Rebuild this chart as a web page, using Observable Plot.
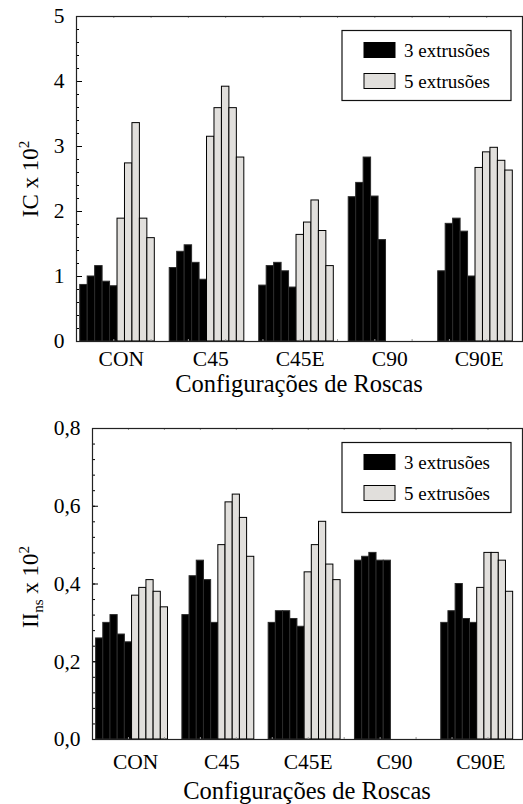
<!DOCTYPE html>
<html>
<head>
<meta charset="utf-8">
<script src="https://cdn.jsdelivr.net/npm/d3@7"></script>
<script src="https://cdn.jsdelivr.net/npm/@observablehq/plot@0.6"></script>
<style>
  body { margin: 0; background: #fff; }
  svg { display: block; }
</style>
</head>
<body>
<div id="chart"></div>
<script>
// Screw configurations and extrusion series
const configs = ["CON", "C45", "C45E", "C90", "C90E"];
const series = ["3 extrusões", "5 extrusões"];
const xTitle = "Configurações de Roscas";

// IC x 10^2, five samples per configuration
const ic3 = [
  [0.87, 1.00, 1.16, 0.92, 0.85],
  [1.13, 1.38, 1.48, 1.21, 0.95],
  [0.86, 1.16, 1.21, 1.08, 0.83],
  [2.22, 2.44, 2.83, 2.23, 1.56],
  [1.08, 1.81, 1.89, 1.69, 1.00]
];
const ic5 = [
  [1.89, 2.74, 3.36, 1.89, 1.59],
  [3.15, 3.59, 3.92, 3.59, 2.83],
  [1.64, 1.83, 2.17, 1.70, 1.16],
  [],
  [2.67, 2.91, 2.98, 2.78, 2.63]
];

// II_ns x 10^2, five samples per configuration
const iins3 = [
  [0.26, 0.30, 0.32, 0.27, 0.25],
  [0.32, 0.42, 0.46, 0.41, 0.30],
  [0.30, 0.33, 0.33, 0.31, 0.29],
  [0.46, 0.47, 0.48, 0.46, 0.46],
  [0.30, 0.33, 0.40, 0.31, 0.30]
];
const iins5 = [
  [0.37, 0.39, 0.41, 0.38, 0.34],
  [0.50, 0.61, 0.63, 0.57, 0.47],
  [0.43, 0.50, 0.56, 0.45, 0.41],
  [],
  [0.39, 0.48, 0.48, 0.46, 0.38]
];

// Y axis ticks
const icTicks = [0, 1, 2, 3, 4, 5];
const iinsTicks = [0, 0.2, 0.4, 0.6, 0.8];

const FONT = "'Liberation Serif', 'Times New Roman', Times, serif";
const W = 523;
const SLOTS = 12;       // bar slots per configuration group (10 bars + gap)
const PER_SERIES = 5;

// Flatten into one row per bar, placing bars in consecutive slots
function toRows(v3, v5) {
  const rows = [];
  configs.forEach((c, g) => {
    [v3[g], v5[g]].forEach((vals, s) => {
      vals.forEach((v, i) => {
        const slot = g * SLOTS + s * PER_SERIES + i;
        rows.push({config: c, series: series[s], v, x1: slot, x2: slot + 1});
      });
    });
  });
  return rows;
}

function panel({height, marginTop, marginBottom, marginLeft, yMax, ticks, minorStep, fmt,
                v3, v5, labelDy, titleDy, yTitle}) {
  const marginRight = 1;
  const plotW = W - marginLeft - marginRight;
  const plotH = height - marginTop - marginBottom;
  const rows = toRows(v3, v5);
  const minor = d3.range(0, yMax + minorStep / 2, minorStep);
  const xDomain = [-0.5, 59.3];
  const xTicks = d3.range(4.5, xDomain[1], 5);

  const svg = Plot.plot({
    width: W, height, marginTop, marginRight, marginBottom, marginLeft,
    style: {fontFamily: FONT, fontSize: "21px", color: "#000", background: "#fff"},
    x: {domain: xDomain, axis: null},
    y: {domain: [0, yMax], axis: null},
    marks: [
      Plot.rect(rows.filter(d => d.series === series[0]),
        {x1: "x1", x2: "x2", y1: 0, y2: "v", fill: "#000", stroke: "#2b2b2b", strokeWidth: 1}),
      Plot.rect(rows.filter(d => d.series === series[1]),
        {x1: "x1", x2: "x2", y1: 0, y2: "v", fill: "#e1dfdc", stroke: "#000", strokeWidth: 1}),
      // inward y ticks
      Plot.tickY(minor, {y: d => d, insetRight: plotW - 3, stroke: "#000"}),
      Plot.tickY(ticks, {y: d => d, insetRight: plotW - 6, stroke: "#000"}),
      // faint inward x ticks on top and bottom edges
      Plot.tickX(xTicks, {x: d => d, insetBottom: plotH - 2, stroke: "#999"}),
      Plot.tickX(xTicks, {x: d => d, insetTop: plotH - 2, stroke: "#999"}),
      Plot.frame({stroke: "#222", strokeWidth: 1.2}),
      Plot.axisY({ticks, label: null, tickSize: 0, tickPadding: 12, tickFormat: fmt, fontSize: 21.5}),
      Plot.text(configs, {
        x: (d, i) => i * SLOTS + PER_SERIES + 0.5, text: d => d,
        frameAnchor: "bottom", dy: labelDy, lineAnchor: "bottom", fontSize: 21.5
      })
    ]
  });

  const root = d3.select(svg);

  // X-axis title
  root.append("text")
    .attr("x", marginLeft + plotW / 2).attr("y", height - marginBottom + titleDy)
    .attr("text-anchor", "middle")
    .style("font-family", FONT).style("font-size", "24.5px").style("fill", "#000")
    .text(xTitle);

  // Legend box, top right inside the frame
  const lg = root.append("g")
    .attr("transform", `translate(${W - marginRight - 11 - 169},${marginTop + 14.5})`);
  lg.append("rect").attr("x", 0).attr("y", 0).attr("width", 169).attr("height", 70)
    .style("fill", "#fff").style("stroke", "#111").style("stroke-width", "1.2px");
  series.forEach((s, i) => {
    lg.append("rect").attr("x", 22).attr("y", 12 + 31 * i).attr("width", 31).attr("height", 15)
      .style("fill", i === 0 ? "#000" : "#e1dfdc").style("stroke", "#000").style("stroke-width", "1px");
    lg.append("text").attr("x", 62).attr("y", 26 + 31 * i)
      .attr("text-anchor", "start")
      .style("font-family", FONT).style("font-size", "19px").style("fill", "#000").text(s);
  });

  // Rotated y-axis title with sub/superscripts
  const t = root.append("text")
    .attr("transform", `translate(38,${yTitle.cy}) rotate(-90)`)
    .attr("text-anchor", "middle")
    .style("font-family", FONT).style("font-size", "23px").style("fill", "#000");
  yTitle.parts.forEach(p => {
    const ts = t.append("tspan").text(p.text);
    if (p.size) ts.style("font-size", p.size + "px");
    if (p.dy) ts.attr("dy", p.dy);
  });

  return svg;
}

const comma1 = d => d3.format(".1f")(d).replace(".", ",");

const icPanel = panel({
  height: 400, marginTop: 16, marginBottom: 59, marginLeft: 76,
  yMax: 5, ticks: icTicks, minorStep: 0.2, fmt: d => String(d),
  v3: ic3, v5: ic5, labelDy: 24, titleDy: 51,
  yTitle: {cy: 179, parts: [{text: "IC x 10"}, {text: "2", size: 15, dy: "-9"}]}
});

const iinsPanel = panel({
  height: 404, marginTop: 28, marginBottom: 65, marginLeft: 92,
  yMax: 0.8, ticks: iinsTicks, minorStep: 0.04, fmt: comma1,
  v3: iins3, v5: iins5, labelDy: 29, titleDy: 59.5,
  yTitle: {cy: 187, parts: [
    {text: "II"}, {text: "ns", size: 15, dy: "5"},
    {text: " x 10", dy: "-5"}, {text: "2", size: 15, dy: "-9"}
  ]}
});

const chart = document.getElementById("chart");
chart.appendChild(icPanel);
chart.appendChild(iinsPanel);
</script>
</body>
</html>
